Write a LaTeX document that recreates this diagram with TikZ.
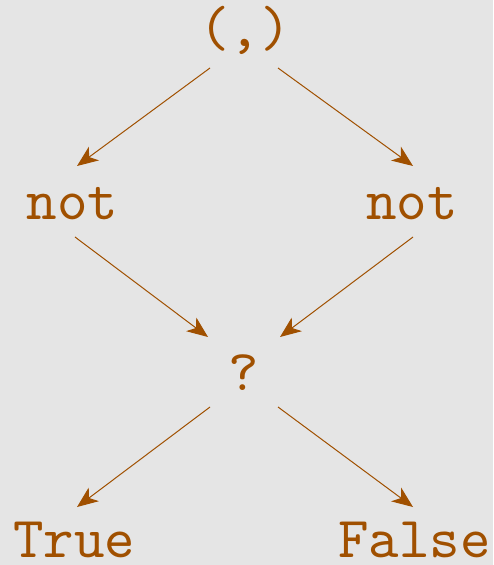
\documentclass[tikz,border=0pt]{standalone}
\usepackage{fontspec}
\setmonofont{lmmono10-regular.otf}
\usepackage{tikz}
\usetikzlibrary{arrows.meta}
\definecolor{treebrown}{RGB}{160,80,0}
\definecolor{bggray}{RGB}{229,229,229}

\begin{document}
\begin{tikzpicture}[x=0.5pt,y=-0.5pt,
  every node/.style={text=treebrown, inner sep=0pt, anchor=base, font=\fontsize{29}{34}\selectfont\ttfamily},
  edge/.style={draw=treebrown, line width=0.5pt, -{Stealth[length=10.5pt,width=8.5pt,inset=3pt]}}]
\fill[bggray] (0,0) rectangle (493,565);
\useasboundingbox (0,0) rectangle (493,565);
% nodes
\node (tup) at (245,47) {(,)};
\node (notl) at (72.5,220) {not};
\node (notr) at (412,220) {not};
\node (ask) at (244,390) {?};
\node (yes) at (74,557) {True};
\node (no) at (414.5,557) {False};
% edges
\draw[edge] ([shift={(-35,21)}]tup.base) -- ([shift={(4.5,-54)}]notl.base);
\draw[edge] ([shift={(33,21)}]tup.base) -- ([shift={(1,-54)}]notr.base);
\draw[edge] ([shift={(2.5,17)}]notl.base) -- ([shift={(-36,-53)}]ask.base);
\draw[edge] ([shift={(1,17)}]notr.base) -- ([shift={(36,-53)}]ask.base);
\draw[edge] ([shift={(-34,17)}]ask.base) -- ([shift={(3,-50)}]yes.base);
\draw[edge] ([shift={(34,17)}]ask.base) -- ([shift={(-1.5,-50)}]no.base);
\end{tikzpicture}
\end{document}
